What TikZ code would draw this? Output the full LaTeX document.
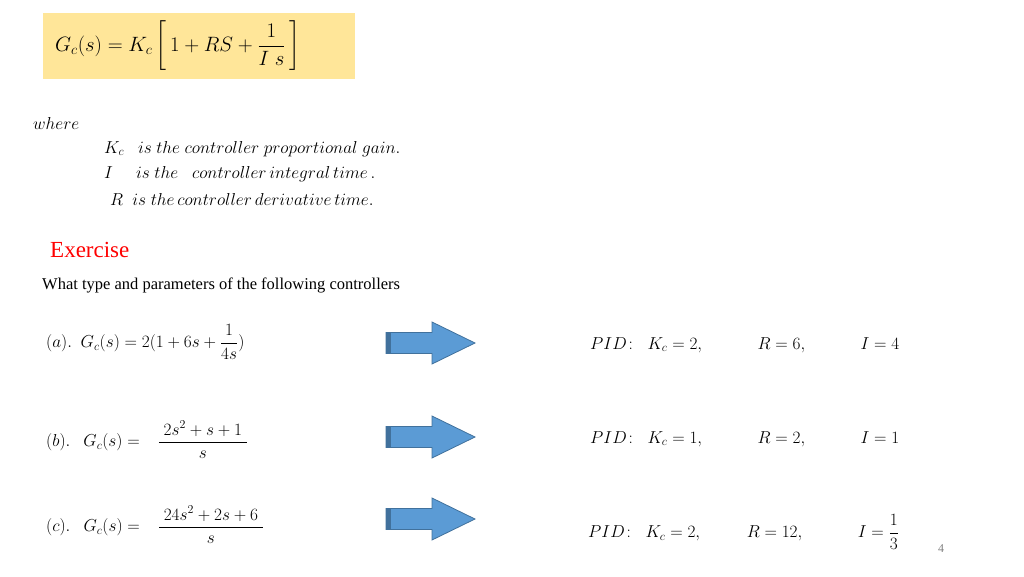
\documentclass[tikz,border=0pt]{standalone}
\usepackage{fontspec}
\setmainfont{Liberation Serif}
\usepackage{amsmath}
\definecolor{arrfill}{RGB}{91,155,213}
\definecolor{arredge}{RGB}{65,113,156}
\begin{document}
\begin{tikzpicture}[x=1pt,y=-1pt,
  txt/.style={anchor=west,inner sep=0pt},
  blockarrow/.style={fill=arrfill,draw=arredge,line width=0.8pt}]
\useasboundingbox (0,0) rectangle (1024,576);
\fill[fill={rgb,255:red,255;green,230;blue,153}] (43,13) rectangle (355,79);
\node[txt,font=\fontsize{21}{24}\selectfont] (gc) at (55,46) {$G_c(s)=K_c\left[\,1+RS+\dfrac{1}{I\;s}\,\right]$};
\begin{scope}[font=\fontsize{18.5}{20}\selectfont]
\node[txt] (where) at (33,123) {$where$};
\node[txt] (k) at (104,149) {$K_c\ \ \ is\ the\ controller\ proportional\ gain.$};
\node[txt] (i) at (104,174) {$I\ \ \ \ \ is\ the\ \ \ controller\, integral\, time\,.$};
\node[txt] (r) at (110,199) {$R\ \ is\ the\, controller\, derivative\, time.$};
\end{scope}
\node[txt,text=red,font=\fontsize{23}{26}\selectfont] (ex) at (50,250) {Exercise};
\node[txt,font=\fontsize{16.5}{19}\selectfont] (q) at (42,285) {What type and parameters of the following controllers};
\begin{scope}[font=\fontsize{17.5}{19}\selectfont]
\node[txt] (a) at (46,342) {$(a).\ \ G_c(s)=2(1+6s+\dfrac{1}{4s})$};
\node[txt] (b) at (46,440) {$(b).\ \ \ G_c(s)=\ \ \ \dfrac{\;2s^2+s+1\;}{\rule{0pt}{12pt}s}$};
\node[txt] (c) at (46,525) {$(c).\ \ \ G_c(s)=\ \ \ \dfrac{\;24s^2+2s+6\;}{\rule{0pt}{12pt}s}$};
\node[txt] (pa) at (590,345) {$PID\colon\ \ K_c=2,\qquad\quad R=6,\qquad\quad I=4$};
\node[txt] (pb) at (590,439) {$PID\colon\ \ K_c=1,\qquad\quad R=2,\qquad\quad I=1$};
\node[txt] (pc) at (588,532) {$PID\colon\ \ K_c=2,\qquad\ \ R=12,\qquad\quad I=\dfrac{1}{3}$};
\end{scope}
\foreach \y/\n in {343/aa,437/ab,519/ac}{
  \fill[blockarrow] (386,\y-10.5) -- (432,\y-10.5) -- (432,\y-21) -- (475,\y) -- (432,\y+21) -- (432,\y+10.5) -- (386,\y+10.5) -- cycle;
  \fill[arredge] (386,\y-10.5) rectangle (391,\y+10.5);
}
\node[txt,text=gray,font=\fontsize{12}{14}\selectfont] (pg) at (938,549) {4};
\end{tikzpicture}
\end{document}
